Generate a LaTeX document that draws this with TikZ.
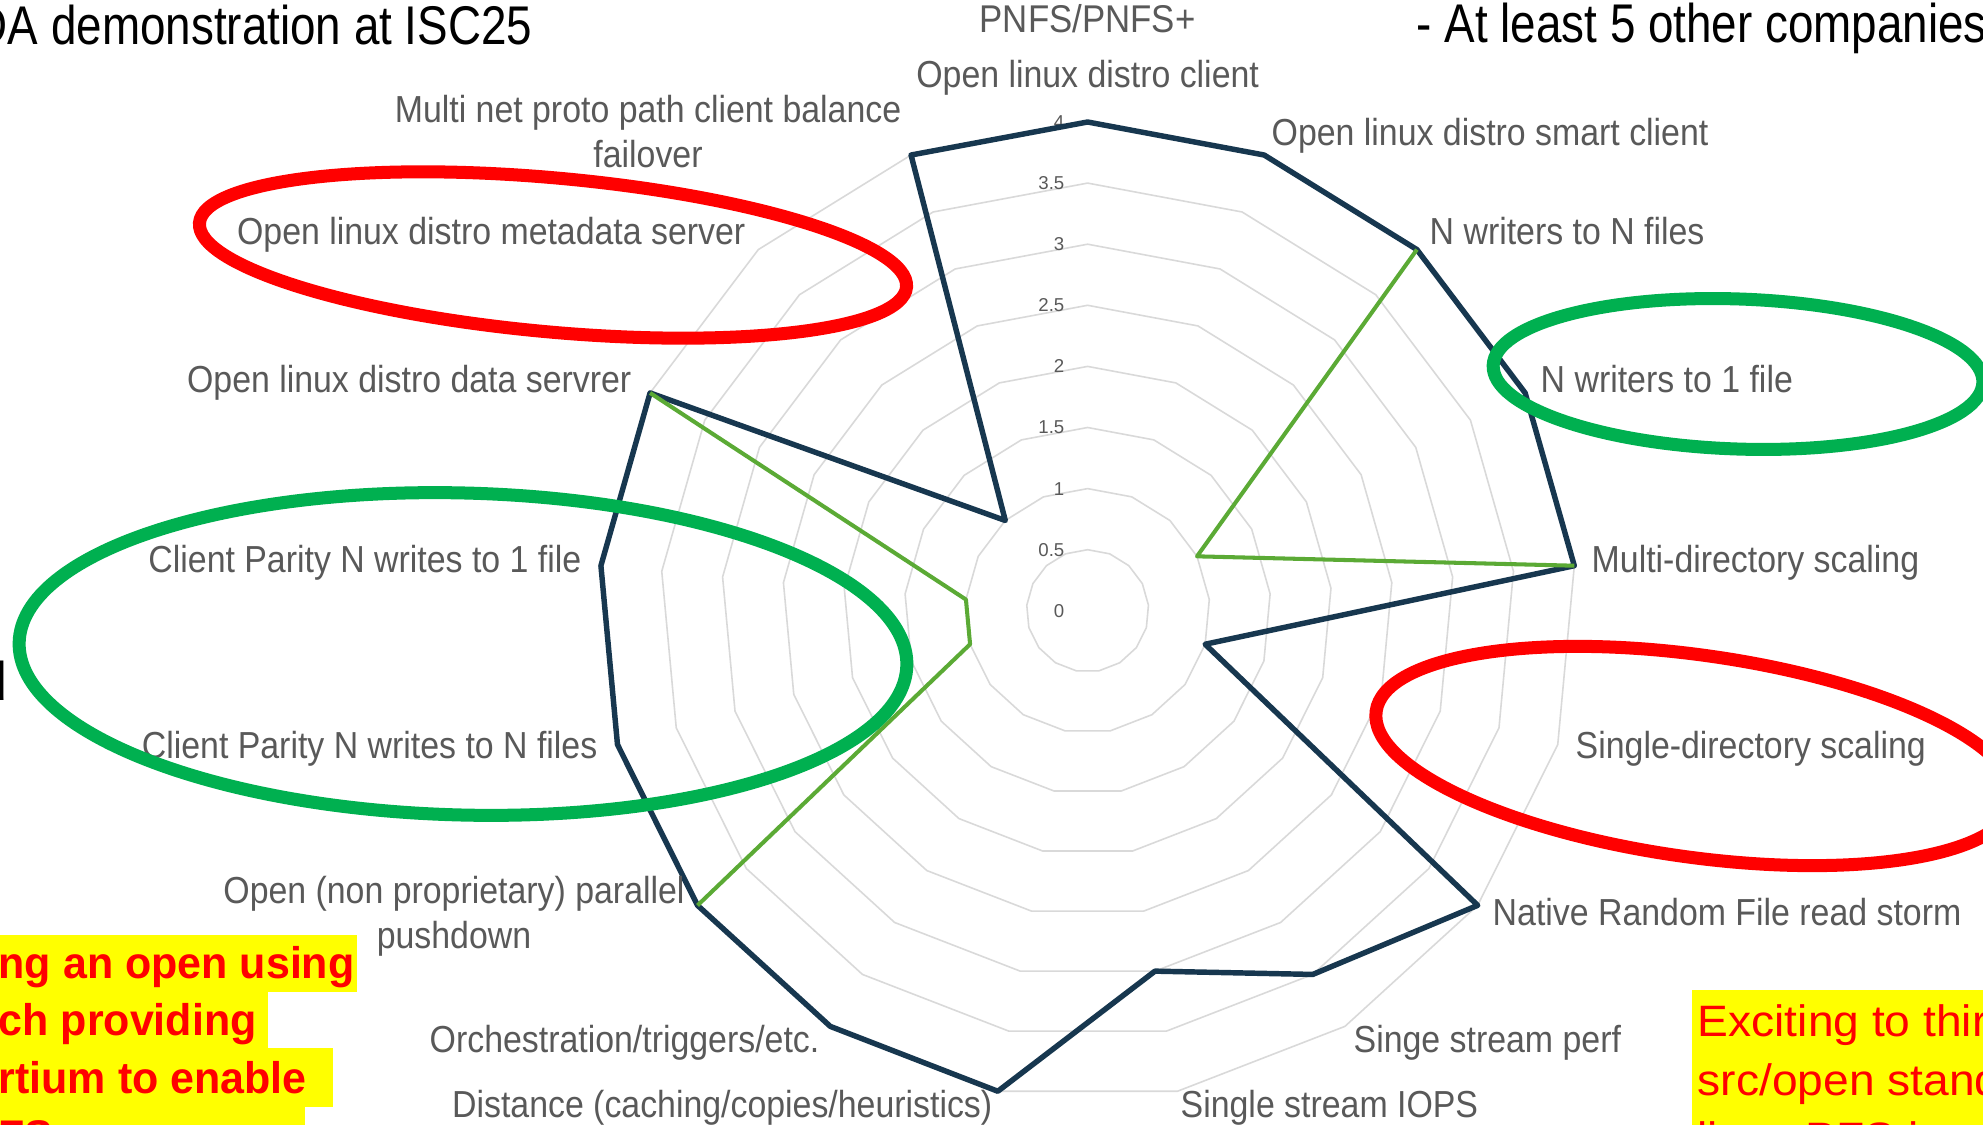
\documentclass[tikz,border=0pt]{standalone}
\usepackage{fontspec}
\setmainfont{Liberation Sans}
\newfontfamily\narrowsans[FakeStretch=0.9]{Liberation Sans}
\newfontfamily\headsans[FakeStretch=0.84]{Liberation Sans}
\newfontfamily\notesans[FakeStretch=0.97]{Liberation Sans}
\newfontfamily\widesans[FakeStretch=1.05]{Liberation Sans}
\definecolor{gridgray}{HTML}{D9D9D9}
\definecolor{labelgray}{HTML}{595959}
\definecolor{seriesnavy}{HTML}{17374F}
\definecolor{seriesgreen}{HTML}{5BAA35}
\definecolor{ringgreen}{HTML}{00B050}
\definecolor{ringred}{HTML}{FF0000}
\definecolor{notered}{HTML}{FF0000}
\definecolor{hiliteyellow}{HTML}{FFFF00}

\begin{document}
\begin{tikzpicture}[x=0.01cm,y=-0.01cm,
  axislabel/.style={text=labelgray, font=\narrowsans\fontsize{10.7}{13}\selectfont, inner sep=0pt},
  ticklabel/.style={text=labelgray, font=\fontsize{5.3}{6}\selectfont, inner sep=0pt, anchor=east},
  gridring/.style={draw=gridgray, line width=0.45pt},
  navyline/.style={draw=seriesnavy, line width=1.55pt, line join=round},
  greenline/.style={draw=seriesgreen, line width=1.15pt, line join=round},
  markring/.style={line width=3.7pt},
  headline/.style={text=black, font=\headsans\fontsize{15.5}{18}\selectfont, inner sep=0pt},
  boldnote/.style={text=notered, font=\notesans\bfseries\fontsize{12.6}{15}\selectfont, inner sep=0pt, anchor=base west},
  plainnote/.style={text=notered, font=\widesans\fontsize{12.5}{15}\selectfont, inner sep=0pt, anchor=base west},
]
\useasboundingbox (0,0) rectangle (1983,1125);
\clip (0,0) rectangle (1983,1125);
\fill[white] (0,0) rectangle (1983,1125);

% radar geometry: centre, length of one unit, angle between the 17 axes
\def\cx{1087.6}
\def\cy{610.8}
\def\unitlen{122.2}
\def\angstep{21.17647}

% grid rings 0.5 ... 4
\foreach \v in {0.5,1.0,...,4.0} {
  \draw[gridring] ({\cx},{\cy-\v*\unitlen})
    \foreach \k in {1,...,16} { -- ({\cx+\v*\unitlen*sin(\k*\angstep)},{\cy-\v*\unitlen*cos(\k*\angstep)}) } -- cycle;
}

% value scale along the vertical axis
\foreach \v/\t [count=\i] in {0/0,0.5/0.5,1/1,1.5/1.5,2/2,2.5/2.5,3/3,3.5/3.5,4/4}
  \node[ticklabel] (tick-\i) at (1065,{\cy-\v*\unitlen}) {\t};

% first series (navy), one value per axis
\foreach \v [count=\k from 0] in {4,4,4,4,4,1,4,3.5,3,4,4,4,4,4,4,1,4}
  \coordinate (n\k) at ({\cx+\v*\unitlen*sin(\k*\angstep)},{\cy-\v*\unitlen*cos(\k*\angstep)});
% second series (green), only where it has values
\foreach \k/\v in {2/4,3/1,4/4,11/4,12/1,13/1,14/4}
  \coordinate (g\k) at ({\cx+\v*\unitlen*sin(\k*\angstep)},{\cy-\v*\unitlen*cos(\k*\angstep)});

\draw[navyline] (n0) -- (n1) -- (n2) -- (n3) -- (n4) -- (n5) -- (n6) -- (n7) -- (n8)
  -- (n9) -- (n10) -- (n11) -- (n12) -- (n13) -- (n14) -- (n15) -- (n16) -- cycle;
\draw[greenline] (g2) -- (g3) -- (g4);
\draw[greenline] (g11) -- (g12) -- (g13) -- (g14);

% chart title
\node[axislabel, font=\narrowsans\fontsize{11}{13}\selectfont, anchor=base] (title) at (1087.6,33) {PNFS/PNFS+};

% axis labels
\node[axislabel, anchor=base] (ax0) at (1087.6,88) {Open linux distro client};
\node[axislabel, anchor=base west] (ax1) at (1271,146) {Open linux distro smart client};
\node[axislabel, anchor=base west] (ax2) at (1429,245) {N writers to N files};
\node[axislabel, anchor=base west] (ax3) at (1540,393) {N writers to 1 file};
\node[axislabel, anchor=base west] (ax4) at (1591,572) {Multi-directory scaling};
\node[axislabel, anchor=base west] (ax5) at (1575,758) {Single-directory scaling};
\node[axislabel, anchor=base west] (ax6) at (1492,925) {Native Random File read storm};
\node[axislabel, anchor=base west] (ax7) at (1353,1052) {Singe stream perf};
\node[axislabel, anchor=base west] (ax8) at (1180,1117) {Single stream IOPS};
\node[axislabel, anchor=base east] (ax9) at (993,1117) {Distance (caching/copies/heuristics)};
\node[axislabel, anchor=base east] (ax10) at (820,1052) {Orchestration/triggers/etc.};
\node[axislabel, anchor=base] (ax11a) at (454,903) {Open (non proprietary) parallel};
\node[axislabel, anchor=base] (ax11b) at (454,948) {pushdown};
\node[axislabel, anchor=base east] (ax12) at (598,758) {Client Parity N writes to N files};
\node[axislabel, anchor=base east] (ax13) at (582,572) {Client Parity N writes to 1 file};
\node[axislabel, anchor=base east] (ax14) at (632,393) {Open linux distro data servrer};
\node[axislabel, anchor=base east] (ax15) at (746,245) {Open linux distro metadata server};
\node[axislabel, anchor=base] (ax16a) at (648,123) {Multi net proto path client balance};
\node[axislabel, anchor=base] (ax16b) at (648,168) {failover};

% hand-drawn highlight rings
\draw[markring, draw=ringred, rotate around={-5.2:(553,255)}] (553,255) ellipse [x radius=355, y radius=77];
\draw[markring, draw=ringgreen, rotate around={-2:(1738,374)}] (1738,374) ellipse [x radius=245, y radius=75];
\draw[markring, draw=ringgreen, rotate around={-1.5:(463,654)}] (463,654) ellipse [x radius=444, y radius=161];
\draw[markring, draw=ringred, rotate around={-8:(1695,756)}] (1695,756) ellipse [x radius=322, y radius=101];

% slide text around the chart
\node[headline, anchor=base east] (demo) at (533,45) {DA demonstration at ISC25};
\node[headline, anchor=base west] (others) at (1416,43) {- At least 5 other companies};
\node[headline, anchor=base west] (leftd) at (-19,700) {d};

% left note on yellow highlight
\fill[hiliteyellow] (0,935) rectangle (357,992);
\fill[hiliteyellow] (0,992) rectangle (268,1048);
\fill[hiliteyellow] (0,1048) rectangle (333,1107);
\fill[hiliteyellow] (0,1107) rectangle (305,1125);
\node[boldnote] (note1) at (-2,978) {ng an open using};
\node[boldnote] (note2) at (-2,1035) {ch providing};
\node[boldnote] (note3) at (-2,1093) {rtium to enable};
\node[boldnote] (note4) at (-2,1151) {FS};

% right note on yellow highlight
\fill[hiliteyellow] (1692,990) rectangle (1983,1125);
\node[plainnote] (rnote1) at (1697,1036) {Exciting to thir};
\node[plainnote] (rnote2) at (1697,1095) {src/open stand};
\node[plainnote] (rnote3) at (1697,1153) {linux PFS is};
\end{tikzpicture}
\end{document}
